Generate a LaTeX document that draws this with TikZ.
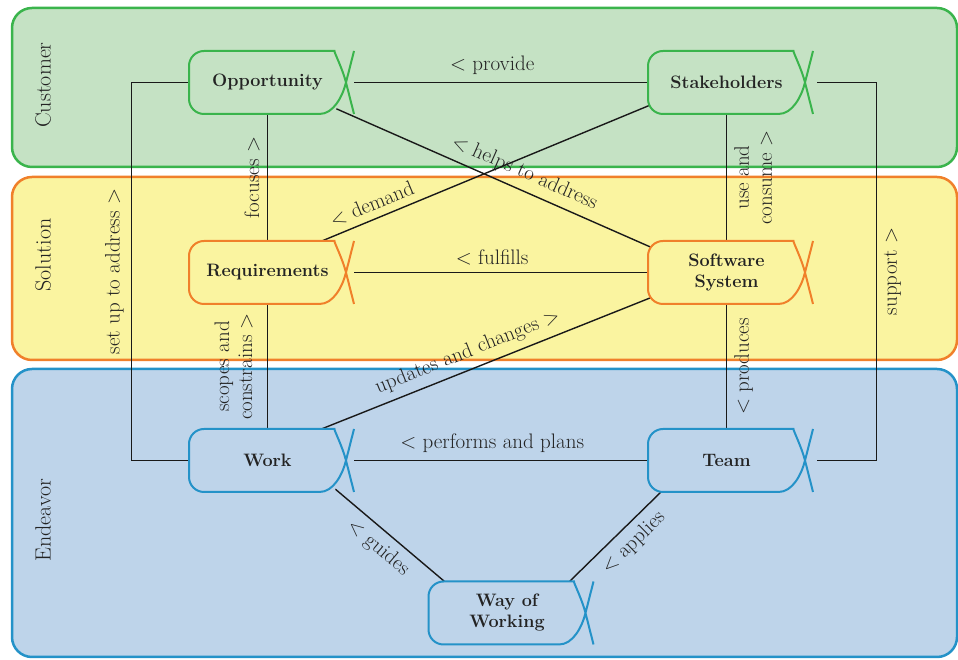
\documentclass[tikz,border=0pt]{standalone}

\definecolor{custfill}{RGB}{197,226,196}
\definecolor{custline}{RGB}{58,180,76}
\definecolor{solfill}{RGB}{250,244,160}
\definecolor{solline}{RGB}{240,128,42}
\definecolor{endfill}{RGB}{190,212,234}
\definecolor{endline}{RGB}{36,146,200}
\definecolor{txtgray}{RGB}{35,35,35}
\definecolor{linegray}{RGB}{25,25,25}

\pgfdeclarelayer{background}
\pgfdeclarelayer{connect}
\pgfsetlayers{background,connect,main}

\tikzset{
  band/.style={line width=2.5pt, rounded corners=20pt},
  bandlbl/.style={rotate=90, font=\fontsize{22}{26}\selectfont, text=txtgray},
  alphanode/.style={minimum width=157pt, minimum height=63pt, inner sep=0pt,
    align=center, font=\fontsize{18}{21}\selectfont\bfseries, text=txtgray},
  link/.style={line width=1.4pt, draw=linegray},
  lbl/.style={font=\fontsize{21}{23}\selectfont, text=txtgray, align=center, inner sep=7pt},
  alphabox/.pic={
    \path[fill=afill] (78.5,0) .. controls (75,14) and (66,31.5) .. (52,31.5)
      [rounded corners=15pt] -- (-78.5,31.5) -- (-78.5,-31.5) -- (52,-31.5)
      [sharp corners] .. controls (66,-31.5) and (75,-14) .. (78.5,0) -- cycle;
    \draw[draw=aline, line width=2pt] (86.5,31.5) -- (78.5,0)
      .. controls (75,-14) and (66,-31.5) .. (52,-31.5)
      [rounded corners=15pt] -- (-78.5,-31.5) -- (-78.5,31.5) -- (52,31.5)
      [sharp corners] .. controls (66,31.5) and (75,14) .. (78.5,0) -- (86.5,-31.5);
  }
}

\begin{document}
\begin{tikzpicture}[x=1pt, y=1pt]
    \useasboundingbox (0,0) rectangle (958,660);

    % Areas
    \begin{pgfonlayer}{background}
        \foreach \bnd/\yt/\yb/\ym/\name in {
            cust/652/493/575/Customer,
            sol/483/300/405/Solution,
            end/291/3/140/Endeavor
            } {
            \draw[band, draw=\bnd line, fill=\bnd fill] (12,\yt) rectangle (957,\yb);
            \node[bandlbl] (\bnd lbl) at (43,\ym) {\name};
        }
    \end{pgfonlayer}

    % Alphas
    \foreach \nm/\px/\py/\bnd/\txt in {
        opp/267.5/577.5/cust/Opportunity,
        stk/726.5/577.5/cust/Stakeholders,
        req/267.5/387.5/sol/Requirements,
        sw/726.5/387.5/sol/Software\\System,
        work/267.5/199.5/end/Work,
        team/726.5/199.5/end/Team,
        wow/507/47/end/Way of\\Working
        } {
        \colorlet{afill}{\bnd fill}
        \colorlet{aline}{\bnd line}
        \pic at (\px,\py) {alphabox};
        \node[alphanode] (\nm) at (\px,\py) {\txt};
    }

    % Links
    \begin{pgfonlayer}{connect}
        \draw[link] ([xshift=8pt]opp.east) -- node[lbl, above, pos=0.47] {\textless\ provide} (stk.west);
        \draw[link] ([xshift=8pt]req.east) -- node[lbl, above, pos=0.47] {\textless\ fulfills} (sw.west);
        \draw[link] ([xshift=8pt]work.east) -- node[lbl, above, pos=0.47] {\textless\ performs and plans} (team.west);

        \draw[link] (opp.south) -- node[lbl, rotate=90, above] {focuses \textgreater} (req.north);
        \draw[link] (req.south) -- node[lbl, xshift=-7pt, rotate=90, above] {scopes and\\constrains \textgreater} (work.north);
        \draw[link] (stk.south) -- node[lbl, rotate=90, below] {use and\\consume \textgreater} (sw.north);
        \draw[link] (sw.south) -- node[lbl, rotate=90, below] {\textless\ produces} (team.north);

        \draw[link] (opp.west) -- ++(-57.5,0) |- node[lbl, rotate=90, above, pos=0.25] {set up to address \textgreater} (work.west);
        \draw[link] ([xshift=12pt]stk.east) -- ++(59,0) |- node[lbl, rotate=90, below, pos=0.25] {support \textgreater} ([xshift=12pt]team.east);

        \draw[link] ([yshift=4pt]opp.center) -- node[lbl, sloped, above, pos=0.545] {\textless\ helps to address} ([yshift=-8pt]sw.center);
        \draw[link] ([yshift=9pt]req.center) -- node[lbl, sloped, above, pos=0.24] {\textless\ demand} ([yshift=9pt]stk.center);
        \draw[link] ([yshift=10pt]work.center) -- node[lbl, sloped, above, pos=0.45] {updates and changes \textgreater} ([yshift=5pt]sw.center);
        \draw[link] ([xshift=-12pt,yshift=4pt]work.south east) -- node[lbl, sloped, below] {\textless\ guides} ([xshift=16pt]wow.north west);
        \draw[link] ([xshift=-16pt]wow.north east) -- node[lbl, sloped, below, pos=0.57] {\textless\ applies} ([xshift=13pt]team.south west);
    \end{pgfonlayer}
\end{tikzpicture}
\end{document}
